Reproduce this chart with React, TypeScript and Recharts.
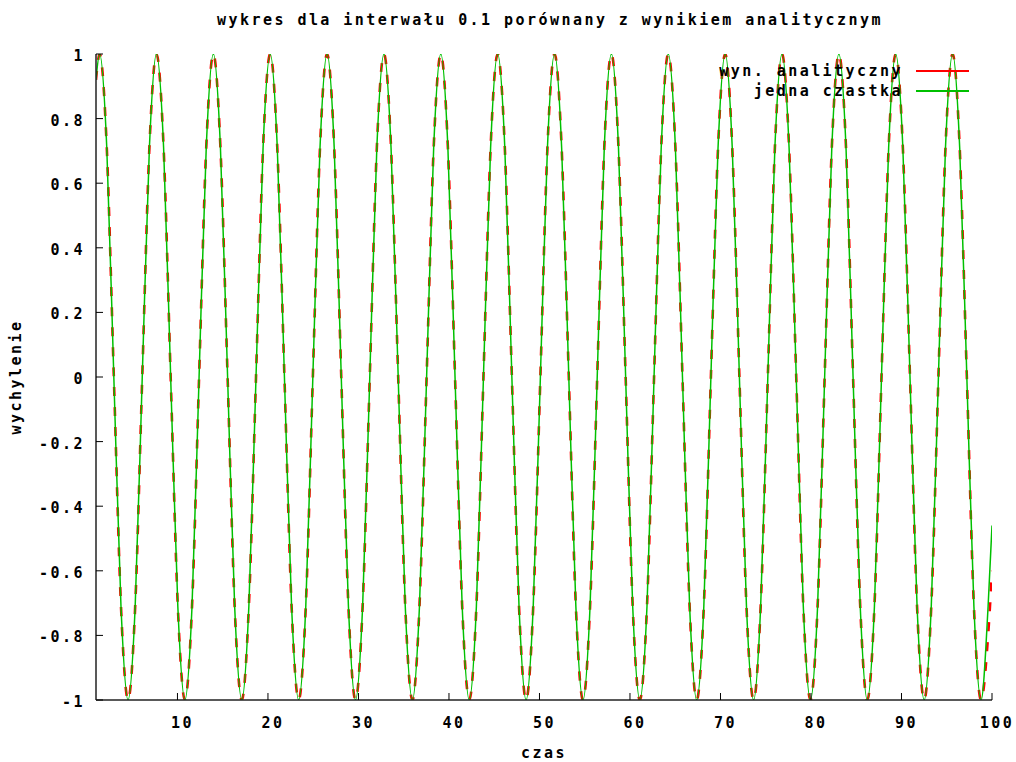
import { Legend, Line, LineChart, XAxis, YAxis } from "recharts";

const czas = [
  1.0,
  1.4, 2.19, 2.97, 3.76, 4.54, 5.33, 6.11, 6.9,
  7.68, 8.47, 9.25, 10.04, 10.82, 11.61, 12.39, 13.18,
  13.97, 14.75, 15.54, 16.32, 17.11, 17.89, 18.68, 19.46,
  20.25, 21.03, 21.82, 22.61, 23.39, 24.18, 24.96, 25.75,
  26.53, 27.32, 28.1, 28.89, 29.67, 30.46, 31.25, 32.03,
  32.82, 33.6, 34.39, 35.17, 35.96, 36.74, 37.53, 38.31,
  39.1, 39.88, 40.67, 41.46, 42.24, 43.03, 43.81, 44.6,
  45.38, 46.17, 46.95, 47.74, 48.52, 49.31, 50.1, 50.88,
  51.67, 52.45, 53.24, 54.02, 54.81, 55.59, 56.38, 57.16,
  57.95, 58.73, 59.52, 60.3, 61.09, 61.88, 62.66, 63.45,
  64.23, 65.02, 65.8, 66.59, 67.37, 68.16, 68.94, 69.73,
  70.52, 71.3, 72.09, 72.87, 73.66, 74.44, 75.23, 76.01,
  76.8, 77.58, 78.37, 79.15, 79.94, 80.73, 81.51, 82.3,
  83.08, 83.87, 84.65, 85.44, 86.22, 87.01, 87.79, 88.58,
  89.36, 90.15, 90.94, 91.72, 92.51, 93.29, 94.08, 94.86,
  95.65, 96.43, 97.22, 98.0, 98.79, 99.57, 100.0,
];

const wynAnalityczny = [
  0.92,
  1, 0.71, 0, -0.71, -1, -0.71, 0, 0.71,
  1, 0.71, 0, -0.71, -1, -0.71, 0, 0.71,
  1, 0.71, 0, -0.71, -1, -0.71, 0, 0.71,
  1, 0.71, 0, -0.71, -1, -0.71, 0, 0.71,
  1, 0.71, 0, -0.71, -1, -0.71, 0, 0.71,
  1, 0.71, 0, -0.71, -1, -0.71, 0, 0.71,
  1, 0.71, 0, -0.71, -1, -0.71, 0, 0.71,
  1, 0.71, 0, -0.71, -1, -0.71, 0, 0.71,
  1, 0.71, 0, -0.71, -1, -0.71, 0, 0.71,
  1, 0.71, 0, -0.71, -1, -0.71, 0, 0.71,
  1, 0.71, 0, -0.71, -1, -0.71, 0, 0.71,
  1, 0.71, 0, -0.71, -1, -0.71, 0, 0.71,
  1, 0.71, 0, -0.71, -1, -0.71, 0, 0.71,
  1, 0.71, 0, -0.71, -1, -0.71, 0, 0.71,
  1, 0.71, 0, -0.71, -1, -0.71, 0, 0.71,
  1, 0.71, 0, -0.71, -1, -0.8, -0.6,
];

const jednaCzastka = [
  0.92,
  1, 0.71, 0, -0.71, -1, -0.71, 0, 0.71,
  1, 0.71, 0, -0.71, -1, -0.71, 0, 0.71,
  1, 0.71, 0, -0.71, -1, -0.71, 0, 0.71,
  1, 0.71, 0, -0.71, -1, -0.71, 0, 0.71,
  1, 0.71, 0, -0.71, -1, -0.71, 0, 0.71,
  1, 0.71, 0, -0.71, -1, -0.71, 0, 0.71,
  1, 0.71, 0, -0.71, -1, -0.71, 0, 0.71,
  1, 0.71, 0, -0.71, -1, -0.71, 0, 0.71,
  1, 0.71, 0, -0.71, -1, -0.71, 0, 0.71,
  1, 0.71, 0, -0.71, -1, -0.71, 0, 0.71,
  1, 0.71, 0, -0.71, -1, -0.71, 0, 0.71,
  1, 0.71, 0, -0.71, -1, -0.71, 0, 0.71,
  1, 0.71, 0, -0.71, -1, -0.71, 0, 0.71,
  1, 0.71, 0, -0.71, -1, -0.71, 0, 0.71,
  1, 0.71, 0, -0.71, -1, -0.71, 0, 0.71,
  1, 0.71, 0, -0.71, -1, -0.71, -0.46,
];

const xTicks = [10, 20, 30, 40, 50, 60, 70, 80, 90, 100];
const yTicks = [-1, -0.8, -0.6, -0.4, -0.2, 0, 0.2, 0.4, 0.6, 0.8, 1];

const seriesNames = ["wyn. analityczny", "jedna czastka"];
const seriesColors = ["#ff0000", "#00c000"];

const data = czas.map((t, i) => ({
  czas: t,
  analit: wynAnalityczny[i],
  czastka: jednaCzastka[i],
}));

const FONT = "'DejaVu Sans Mono', 'Liberation Mono', monospace";
const txt = {
  fontFamily: FONT,
  fontWeight: 700,
  fontSize: 15,
  letterSpacing: 2.45,
  fill: "#000",
};
const TICK = 7;

function fmtY(v: number) {
  return Number.isInteger(v) ? String(v) : v.toFixed(1);
}

function BottomTick({ x, y, payload }: any) {
  return (
    <g>
      <line x1={x} y1={y} x2={x} y2={y - TICK} stroke="#000" />
      <text x={x + 5} y={y + 28} textAnchor="middle" style={txt}>
        {payload.value}
      </text>
    </g>
  );
}

function TopTick({ x, y }: any) {
  return <line x1={x} y1={y} x2={x} y2={y + TICK} stroke="#000" />;
}

function LeftTick({ x, y, payload }: any) {
  return (
    <g>
      <line x1={x} y1={y} x2={x + TICK} y2={y} stroke="#000" />
      <text x={x - 11} y={y + 7} textAnchor="end" style={txt}>
        {fmtY(payload.value)}
      </text>
    </g>
  );
}

function RightTick({ x, y }: any) {
  return <line x1={x} y1={y} x2={x - TICK} y2={y} stroke="#000" />;
}

function Legenda() {
  return (
    <div>
      {seriesNames.map((name, i) => (
        <div
          key={name}
          style={{ display: "flex", alignItems: "center", height: 20 }}
        >
          <span
            style={{
              width: 207,
              textAlign: "right",
              fontFamily: FONT,
              fontWeight: 700,
              fontSize: 15,
              letterSpacing: 2.45,
              color: "#000",
              whiteSpace: "nowrap",
            }}
          >
            {name}
          </span>
          <span style={{ width: 13 }} />
          <span
            style={{
              display: "inline-block",
              width: 53,
              height: 2,
              background: seriesColors[i],
            }}
          />
        </div>
      ))}
    </div>
  );
}

export default function App() {
  return (
    <div
      style={{
        position: "absolute",
        left: 0,
        top: 0,
        width: 1016,
        height: 762,
        background: "#fff",
      }}
    >
      <div
        style={{
          position: "absolute",
          left: 0,
          top: 10,
          width: 1100,
          textAlign: "center",
          fontFamily: FONT,
          fontWeight: 700,
          fontSize: 15,
          letterSpacing: 2.45,
          lineHeight: "20px",
          color: "#000",
        }}
      >
        wykres dla interwału 0.1 porównany z wynikiem analitycznym
      </div>
      <LineChart
        width={1016}
        height={762}
        data={data}
        margin={{ top: 54, right: 24, bottom: 0, left: 0 }}
      >
        <XAxis
          dataKey="czas"
          type="number"
          domain={[1, 100]}
          ticks={xTicks}
          interval={0}
          allowDataOverflow
          height={62}
          tickSize={0}
          tickMargin={0}
          tick={<BottomTick />}
          axisLine={{ stroke: "#222", strokeWidth: 1.5 }}
          label={{
            value: "czas",
            position: "insideBottom",
            offset: 4,
            style: txt,
          }}
        />
        <XAxis
          xAxisId="top"
          orientation="top"
          dataKey="czas"
          type="number"
          domain={[1, 100]}
          ticks={xTicks}
          interval={0}
          allowDataOverflow
          height={0}
          tickSize={0}
          tickMargin={0}
          tick={<TopTick />}
          axisLine={{ stroke: "#222", strokeWidth: 1.5 }}
        />
        <YAxis
          type="number"
          domain={[-1, 1]}
          ticks={yTicks}
          interval={0}
          allowDataOverflow
          width={96}
          tickSize={0}
          tickMargin={0}
          tick={<LeftTick />}
          axisLine={{ stroke: "#222", strokeWidth: 1.5 }}
          label={{
            content: (p: any) => {
              const vb = p.viewBox || {};
              const cx = (vb.x || 0) + 21;
              const cy = (vb.y || 0) + (vb.height || 0) / 2;
              return (
                <text
                  x={cx}
                  y={cy}
                  textAnchor="middle"
                  transform={`rotate(-90, ${cx}, ${cy})`}
                  style={txt}
                >
                  wychylenie
                </text>
              );
            },
          }}
        />
        <YAxis
          yAxisId="right"
          orientation="right"
          type="number"
          domain={[-1, 1]}
          ticks={yTicks}
          interval={0}
          allowDataOverflow
          width={0}
          tickSize={0}
          tickMargin={0}
          tick={<RightTick />}
          axisLine={{ stroke: "#222", strokeWidth: 1.5 }}
        />
        <Legend
          layout="vertical"
          align="center"
          verticalAlign="middle"
          content={<Legenda />}
          wrapperStyle={{ top: 61, left: 696, width: 290 }}
        />
        <Line
          type="monotone"
          dataKey="analit"
          name={seriesNames[0]}
          stroke={seriesColors[0]}
          strokeWidth={2.6}
          strokeDasharray="9 11"
          dot={false}
          isAnimationActive={false}
        />
        <Line
          type="monotone"
          dataKey="czastka"
          name={seriesNames[1]}
          stroke={seriesColors[1]}
          strokeWidth={1.5}
          dot={false}
          isAnimationActive={false}
        />
      </LineChart>
    </div>
  );
}
